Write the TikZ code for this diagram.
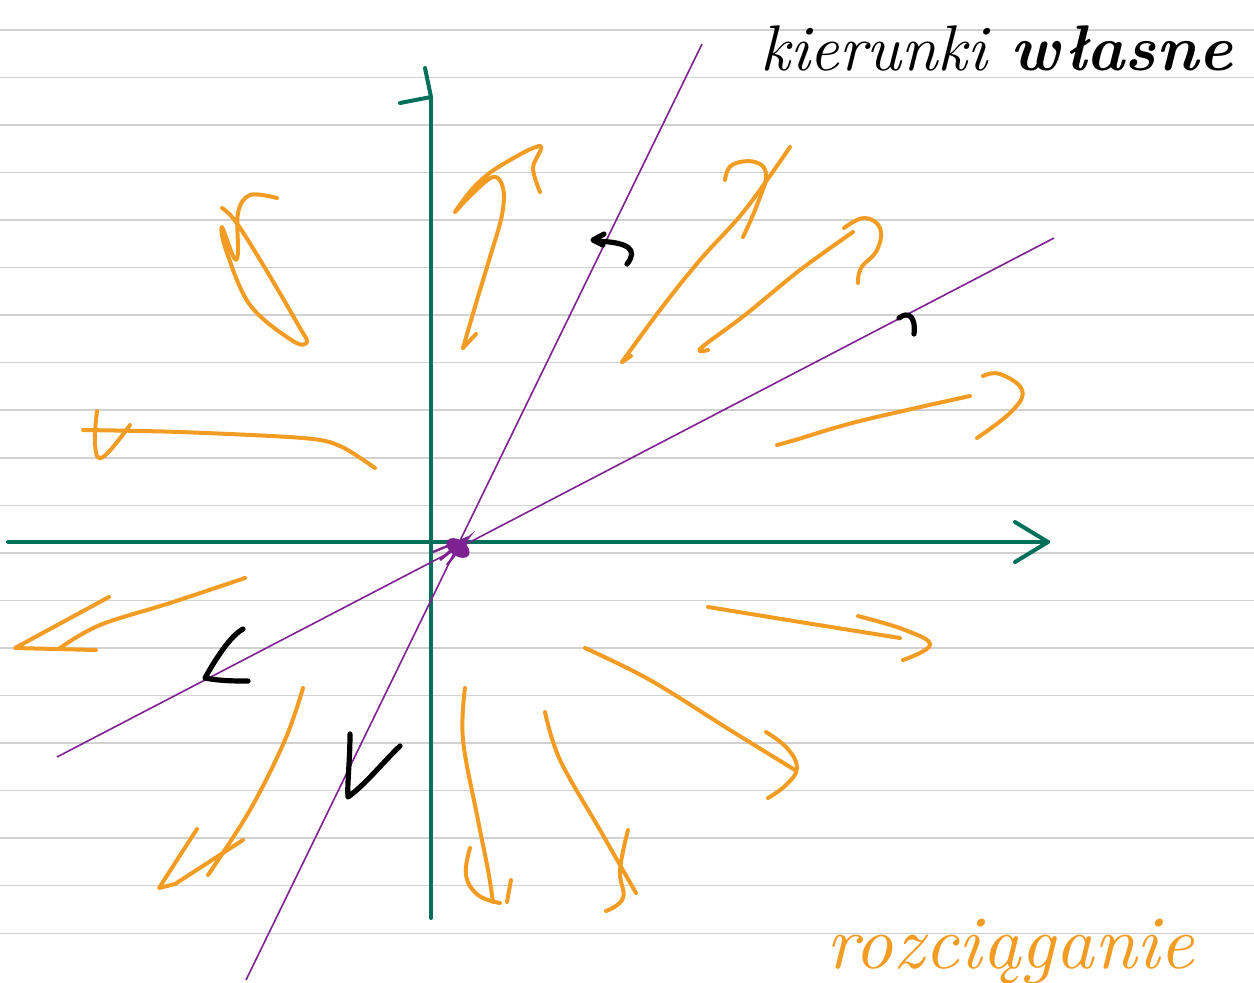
\documentclass[tikz,border=0pt]{standalone}
\usepackage{fontspec}
\begin{document}
\begin{tikzpicture}[x=0.5pt,y=-0.5pt,
  ruled/.style={draw=black!18,line width=0.75pt},
  axis/.style={draw=axisgreen,line width=2pt,line cap=round,line join=round},
  eig/.style={draw=eigpurple,line width=0.8pt},
  traj/.style={draw=trajorange,line width=2pt,line cap=round,line join=round},
  blackmark/.style={draw=black,line width=2.6pt,line cap=round,line join=round},
  lbl/.style={inner sep=0pt,anchor=base west}]
\definecolor{axisgreen}{HTML}{00705A}
\definecolor{eigpurple}{HTML}{7D2290}
\definecolor{trajorange}{HTML}{F39C24}
\useasboundingbox (0,0) rectangle (1254,982);
\fill[white] (0,0) rectangle (1254,982);
% ruled paper
\foreach \k in {0,...,19} {\draw[ruled] (0,{29.8+47.55*\k}) -- (1254,{29.8+47.55*\k});}
% axes
\coordinate (xl) at (8,542); \coordinate (xr) at (1048,542);
\coordinate (yb) at (431,918); \coordinate (yt) at (431,97);
\draw[axis] (xl) -- (xr);
\draw[axis] (1015,522) -- (xr) -- (1015,562);
\draw[axis] (yb) -- (yt);
\draw[axis] (400,103) -- (yt) -- (425,68);
% eigen directions
\coordinate (e1a) at (246,980); \coordinate (e1b) at (702,44);
\coordinate (e2a) at (57,757); \coordinate (e2b) at (1054,238);
\draw[eig] (e1a) -- (e1b);
\draw[eig] (e2a) -- (e2b);
% fixed point blob
\fill[eigpurple,rotate around={-35:(458,548)}] (458,548) ellipse (13 and 8);
\draw[eigpurple,line width=1.2pt] (433,552) -- (462,540) -- (440,560) -- (468,538) -- (447,565);
% black direction marks
\draw[blackmark] (604,234) -- (593,240) -- (603,245);
\draw[blackmark] (595,241) .. controls (630,242) and (638,250) .. (627,264);
\draw[blackmark] (899,318) .. controls (908,311) and (916,316) .. (914,334);
\draw[blackmark] (243,629) .. controls (230,636) and (215,660) .. (205,678) .. controls (220,681) and (235,681) .. (248,681);
\draw[blackmark] (350,734) .. controls (350,760) and (347,785) .. (348,797) .. controls (365,785) and (385,760) .. (400,746);
% orange trajectories
\draw[traj] plot[smooth,tension=0.6] coordinates {(463,348) (477,300) (490,257) (502,215) (503,188) (493,177) (470,196) (455,212) (475,186) (500,166) (540,146) (533,168) (540,192)};
\draw[traj] (463,348) -- (476,334);
\draw[traj] plot[smooth,tension=0.6] coordinates {(622,362) (660,310) (700,260) (745,210) (790,147)};
\draw[traj] (622,362) -- (631,356);
\draw[traj] plot[smooth,tension=0.7] coordinates {(725,180) (732,165) (755,162) (766,175) (757,205) (743,237)};
\draw[traj] plot[smooth,tension=0.6] coordinates {(708,350) (701,348) (745,315) (800,270) (853,232)};
\draw[traj] plot[smooth,tension=0.7] coordinates {(844,228) (864,218) (880,228) (877,250) (861,268) (858,283)};
\draw[traj] plot[smooth,tension=0.6] coordinates {(222,208) (236,222) (265,268) (300,328) (307,342) (293,341) (250,305) (226,250) (222,227) (234,258) (238,252) (238,213) (250,195) (277,198)};
\draw[traj] plot[smooth,tension=0.5] coordinates {(83,430) (180,432) (303,438) (340,446) (375,468)};
\draw[traj] plot[smooth,tension=0.7] coordinates {(97,411) (95,445) (103,457) (130,425)};
\draw[traj] plot[smooth,tension=0.6] coordinates {(777,445) (795,440) (860,421) (970,396)};
\draw[traj] plot[smooth,tension=0.7] coordinates {(983,376) (1000,374) (1022,390) (1012,411) (977,438)};
\draw[traj] plot[smooth,tension=0.6] coordinates {(245,578) (170,603) (100,625) (60,648)};
\draw[traj] (109,597) -- (15,648) -- (96,650);
\draw[traj] plot[smooth,tension=0.6] coordinates {(708,607) (800,622) (900,638)};
\draw[traj] plot[smooth,tension=0.7] coordinates {(858,616) (905,630) (930,645) (903,660)};
\draw[traj] plot[smooth,tension=0.6] coordinates {(303,688) (285,740) (250,810) (208,875)};
\draw[traj] (197,829) -- (159,888) -- (175,884) -- (243,840);
\draw[traj] plot[smooth,tension=0.6] coordinates {(465,688) (463,740) (478,820) (488,870) (493,902)};
\draw[traj] plot[smooth,tension=0.7] coordinates {(470,848) (466,875) (478,895) (500,903)};
\draw[traj] (511,880) -- (507,902);
\draw[traj] plot[smooth,tension=0.6] coordinates {(545,712) (560,760) (600,830) (636,893)};
\draw[traj] plot[smooth,tension=0.7] coordinates {(628,830) (620,870) (623,898) (606,911)};
\draw[traj] plot[smooth,tension=0.6] coordinates {(585,648) (650,680) (730,730) (795,770)};
\draw[traj] plot[smooth,tension=0.7] coordinates {(766,732) (787,748) (797,768) (786,785) (768,798)};
% labels
\node[lbl] (t1) at (760,70) {\resizebox{236pt}{!}{\itshape kierunki \textbf{własne}}};
\node[lbl,text=trajorange] (t2) at (826,968) {\resizebox{184pt}{!}{\itshape rozciąganie}};
\end{tikzpicture}
\end{document}
